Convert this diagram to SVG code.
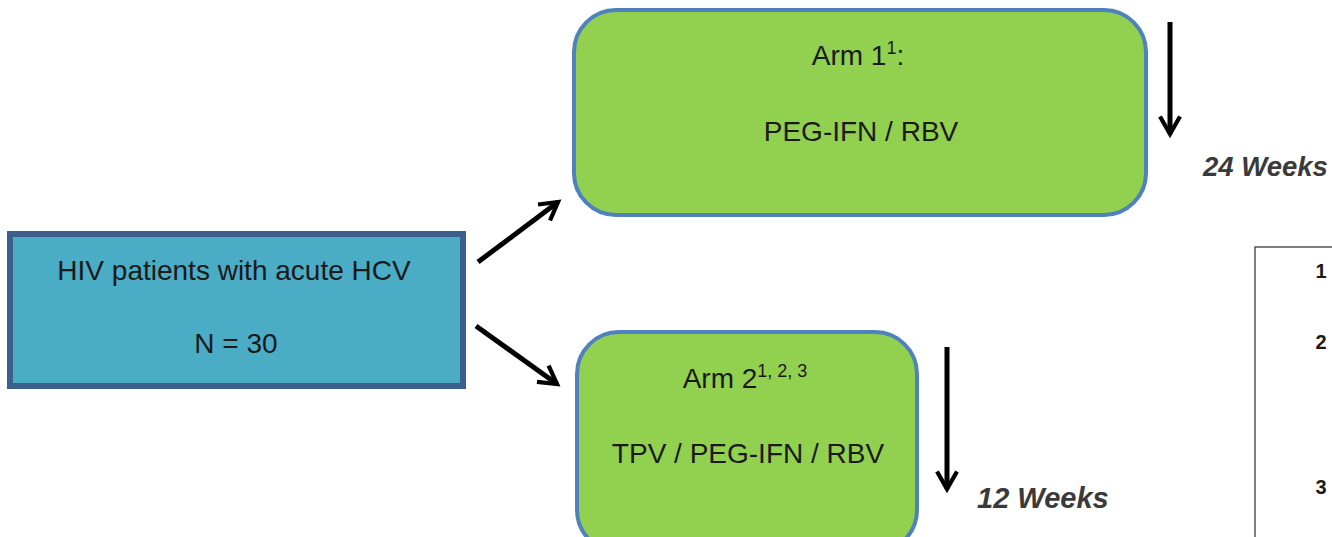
<svg xmlns="http://www.w3.org/2000/svg" width="1332" height="537" viewBox="0 0 1332 537">
<defs>
<style>
.t{font-family:"Liberation Sans","Open Sans",sans-serif;font-size:28px;fill:#1a1a1a;text-anchor:middle}
.sup{font-size:18px}
.wk{font-family:"Liberation Sans",Arial,sans-serif;font-size:29px;font-weight:bold;font-style:italic;fill:#3a3a3a}
.num{font-family:"Liberation Sans",sans-serif;font-size:20px;font-weight:bold;fill:#1a1a1a;text-anchor:middle}
.arm{fill:#92d050;stroke:#4f81bd;stroke-width:4}
.conn{stroke:#000;stroke-width:5;fill:none}
</style>
<marker id="ah" viewBox="0 0 10 10" refX="8" refY="5" markerWidth="5" markerHeight="5" orient="auto" markerUnits="strokeWidth">
<path d="M1,1 L8,5 L1,9" fill="none" stroke="#000" stroke-width="1.7" stroke-linejoin="miter"/>
</marker>
</defs>
<rect width="1332" height="537" fill="#fff"/>
<g id="patients">
<rect x="10" y="234" width="453" height="152" fill="#4bacc6" stroke="#3c5f8b" stroke-width="6"/>
<text class="t" x="234" y="280">HIV patients with acute HCV</text>
<text class="t" x="236" y="353">N = 30</text>
</g>
<g id="arm1">
<rect class="arm" x="574" y="10" width="572" height="205" rx="42"/>
<text class="t" x="858" y="65">Arm 1<tspan class="sup" dy="-11">1</tspan><tspan dy="11">:</tspan></text>
<text class="t" x="861" y="141">PEG-IFN / RBV</text>
</g>
<g id="arm2">
<rect class="arm" x="577" y="332" width="340" height="220" rx="42"/>
<text class="t" x="745" y="388">Arm 2<tspan class="sup" dy="-11">1, 2, 3</tspan></text>
<text class="t" x="748" y="463">TPV / PEG-IFN / RBV</text>
</g>
<g id="connectors">
<path class="conn" d="M478,262 L558,202" marker-end="url(#ah)"/>
<path class="conn" d="M476,326 L557,384" marker-end="url(#ah)"/>
<path class="conn" d="M1170,22 L1170,134" marker-end="url(#ah)"/>
<path class="conn" d="M947,347 L947,489" marker-end="url(#ah)"/>
</g>
<g id="labels">
<text class="wk" x="1203" y="176" style="font-size:27.5px">24 Weeks</text>
<text class="wk" x="977" y="508">12 Weeks</text>
</g>
<g id="table">
<path d="M1255,537 L1255,247 L1332,247" fill="none" stroke="#555" stroke-width="1.5"/>
<text class="num" x="1321" y="278">1</text>
<text class="num" x="1321" y="349">2</text>
<text class="num" x="1321" y="494">3</text>
</g>
</svg>
